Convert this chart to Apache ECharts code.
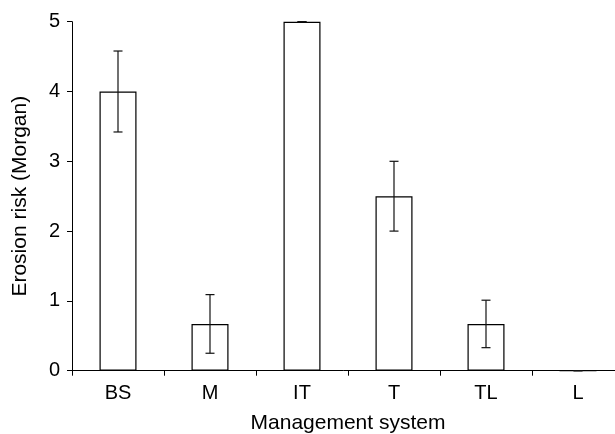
<!DOCTYPE html>
<html>
<head>
<meta charset="utf-8">
<script src="https://cdn.jsdelivr.net/npm/echarts@6/dist/echarts.min.js"></script>
<style>html,body{margin:0;padding:0;background:#fff;}#c{width:615px;height:434px;}</style>
</head>
<body>
<div id="c"></div>
<script>
const categories = ['BS', 'M', 'IT', 'T', 'TL', 'L'];
const values = [4.0, 0.67, 5.0, 2.5, 0.67, 0.0];
const errors = [0.58, 0.42, 0.0, 0.5, 0.34, 0.0];
const yTicks = [0, 1, 2, 3, 4, 5];

const chart = echarts.init(document.getElementById('c'), null, {renderer: 'canvas'});
const font = 'Liberation Sans, Arial, sans-serif';
const errData = categories.map((c, i) => [i, values[i] - errors[i], values[i] + errors[i]]);

chart.setOption({
  animation: false,
  backgroundColor: '#ffffff',
  grid: {left: 72, right: -9, top: 21.7, bottom: 63.3, containLabel: false, outerBoundsMode: 'none'},
  xAxis: {
    type: 'category',
    data: categories,
    name: 'Management system',
    nameLocation: 'middle',
    nameGap: 42,
    nameTextStyle: {fontFamily: font, fontSize: 21, color: '#000'},
    axisLine: {lineStyle: {color: '#000', width: 1}},
    axisTick: {show: true, length: 5, inside: false, lineStyle: {color: '#000'}},
    axisLabel: {fontFamily: font, fontSize: 20, color: '#000', margin: 13},
    splitLine: {show: false}
  },
  yAxis: {
    type: 'value',
    min: yTicks[0],
    max: yTicks[yTicks.length - 1],
    interval: 1,
    name: 'Erosion risk (Morgan)',
    nameLocation: 'middle',
    nameGap: 41,
    nameTextStyle: {fontFamily: font, fontSize: 21, color: '#000'},
    axisLine: {show: true, lineStyle: {color: '#000', width: 1}},
    axisTick: {show: true, length: 5, inside: false, lineStyle: {color: '#000'}},
    axisLabel: {fontFamily: font, fontSize: 20, color: '#000', margin: 12},
    splitLine: {show: false}
  },
  series: [
    {
      type: 'bar',
      data: values,
      barWidth: 37,
      itemStyle: {color: '#ffffff', borderColor: '#000', borderWidth: 1.2}
    },
    {
      type: 'custom',
      data: errData,
      z: 10,
      renderItem: function (params, api) {
        const x = api.value(0);
        const lo = api.coord([x, api.value(1)]);
        const hi = api.coord([x, api.value(2)]);
        const hw = 4.5;
        const style = {stroke: '#111', lineWidth: 1.2};
        return {
          type: 'group',
          children: [
            {type: 'line', shape: {x1: hi[0], y1: hi[1], x2: lo[0], y2: lo[1]}, style: style},
            {type: 'line', shape: {x1: hi[0] - hw, y1: hi[1], x2: hi[0] + hw, y2: hi[1]}, style: style},
            {type: 'line', shape: {x1: lo[0] - hw, y1: lo[1], x2: lo[0] + hw, y2: lo[1]}, style: style}
          ]
        };
      }
    }
  ]
});
</script>
</body>
</html>
